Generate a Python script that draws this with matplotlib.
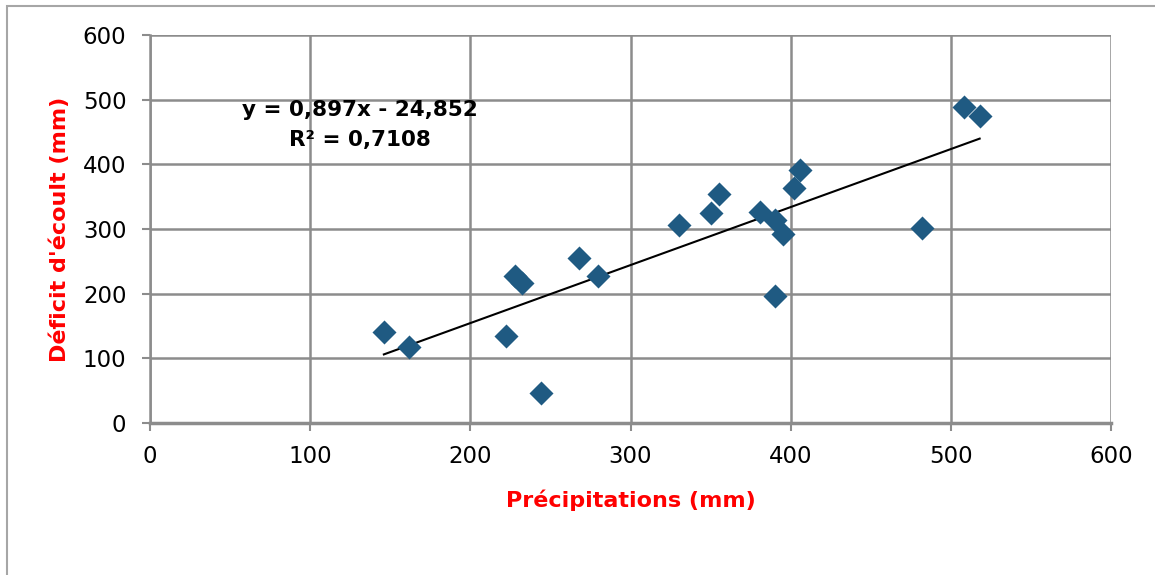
import matplotlib.pyplot as plt
from matplotlib.patches import Rectangle
import numpy as np

# données
precip = [146, 162, 222, 244, 228, 232, 268, 280, 330, 350, 355, 381, 390, 395, 390, 402, 406, 482, 508, 518]
deficit = [140, 118, 135, 47, 227, 217, 255, 227, 306, 325, 354, 327, 314, 293, 196, 364, 392, 302, 489, 475]
slope, intercept = 0.897, -24.852
eq_text = "y = 0,897x - 24,852\nR² = 0,7108"

fig = plt.figure(figsize=(11.55, 5.75), dpi=100)
ax = fig.add_axes([0.1299, 0.2643, 0.832, 0.6748])

# cadre du graphique
fig.patches.append(Rectangle((7 / 1155, -0.1), 1.2, 1 - 6 / 575 + 0.1, transform=fig.transFigure,
                             fill=False, edgecolor='#a6a6a6', linewidth=1.5))

ax.scatter(precip, deficit, marker='D', s=150, color='#1f5a82', zorder=3, linewidths=0)
xs = np.array([min(precip), max(precip)])
ax.plot(xs, slope * xs + intercept, color='black', linewidth=1.5, zorder=2)

ax.set_xlim(0, 600)
ax.set_ylim(0, 600)
ax.set_xticks(range(0, 601, 100))
ax.set_yticks(range(0, 601, 100))
ax.grid(True, color='#8c8c8c', linewidth=1.8)
ax.set_axisbelow(True)
for s in ['top', 'right']:
    ax.spines[s].set_visible(False)
ax.spines['left'].set_color('#8c8c8c')
ax.spines['bottom'].set_color('#8c8c8c')
ax.spines['left'].set_linewidth(1.8)
ax.spines['bottom'].set_linewidth(2.5)
ax.tick_params(axis='both', color='#8c8c8c', labelcolor='black', labelsize=16.5,
               length=6, width=1.5, direction='out')
ax.tick_params(axis='x', pad=10)
ax.tick_params(axis='y', pad=11)
for lab in ax.get_xticklabels() + ax.get_yticklabels():
    lab.set_family('DejaVu Sans')

ax.set_xlabel("Précipitations (mm)", color='red', fontsize=16, fontweight='bold',
              family='DejaVu Sans', labelpad=15)
ax.set_ylabel("Déficit d'écoult (mm)", color='red', fontsize=16, fontweight='bold',
              family='DejaVu Sans', labelpad=9)

ax.text(131, 461, eq_text, ha='center', va='center', fontsize=15.5, fontweight='bold',
        family='DejaVu Sans', linespacing=1.65)

fig.savefig('out.png', dpi=100)
